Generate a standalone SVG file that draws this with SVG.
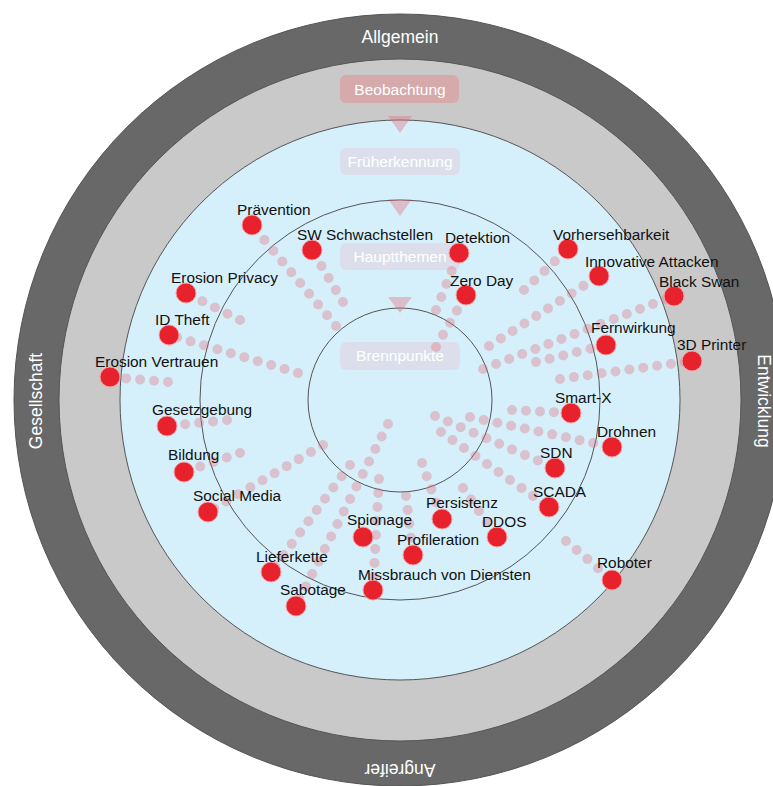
<svg xmlns="http://www.w3.org/2000/svg" width="773" height="786" viewBox="0 0 773 786">
<style>
.ring{stroke:#555;stroke-width:1}
.rlab{font-family:"Liberation Sans",Arial,sans-serif;font-size:17.5px;fill:#fff;text-anchor:middle}
.box{stroke:none}
.blab{font-family:"Liberation Sans",Arial,sans-serif;font-size:15.5px;fill:#fff;text-anchor:middle}
.tri{fill:#e07080;fill-opacity:.4}
.trail{stroke:#e06a7c;stroke-opacity:.35;stroke-width:10;stroke-linecap:round;stroke-dasharray:0 14;fill:none}
.dot{fill:#e8222c;stroke:#f4a0a4;stroke-width:1}
.lab{font-family:"Liberation Sans",Arial,sans-serif;font-size:15.4px;fill:#111}
</style>
<rect width="773" height="786" fill="#fff"/>
<g id="rings">
<circle class="ring" cx="400" cy="400" r="386" fill="#686868"/>
<circle class="ring" cx="400" cy="400" r="341" fill="#c9c9c9"/>
<circle class="ring" cx="400" cy="400" r="280" fill="#d6f0fb"/>
<circle class="ring" cx="400" cy="400" r="200" fill="none"/>
<circle class="ring" cx="400" cy="400" r="92" fill="none"/>
</g>
<g id="ring-labels">
<text class="rlab" x="400" y="43">Allgemein</text>
<text class="rlab" transform="translate(42,401) rotate(-90)">Gesellschaft</text>
<text class="rlab" transform="translate(758,401) rotate(90)">Entwicklung</text>
<text class="rlab" transform="translate(400,764) rotate(180)">Angreifer</text>
</g>
<g id="stages">
<g id="stage-beobachtung"><rect class="box" x="340" y="75" width="119" height="28" rx="6" fill="#d6a9ab"/><text class="blab" x="400" y="95" fill="#f6eaea">Beobachtung</text></g>
<polygon class="tri" points="388,116 412,116 400,133"/>
<g id="stage-frueherkennung"><rect class="box" x="340" y="148" width="120" height="27" rx="6" fill="#dcdfeb"/><text class="blab" x="400" y="167">Früherkennung</text></g>
<polygon class="tri" points="388,199 412,199 400,216"/>
<g id="stage-hauptthemen"><rect class="box" x="340" y="243" width="120" height="27" rx="6" fill="#dcdfeb"/><text class="blab" x="400" y="262">Hauptthemen</text></g>
<polygon class="tri" points="388,297 412,297 400,313"/>
<g id="stage-brennpunkte"><rect class="box" x="340" y="342" width="120" height="28" rx="6" fill="#dcdfeb"/><text class="blab" x="400" y="361">Brennpunkte</text></g>
</g>
<g id="connectors">
<line class="trail" x1="336" y1="326" x2="252" y2="225"/>
<line class="trail" x1="343" y1="302" x2="312" y2="250"/>
<line class="trail" x1="436" y1="310" x2="459" y2="253"/>
<line class="trail" x1="436" y1="347" x2="466" y2="295"/>
<line class="trail" x1="240" y1="320" x2="186" y2="293"/>
<line class="trail" x1="298" y1="373" x2="169" y2="335"/>
<line class="trail" x1="168" y1="382" x2="110" y2="377"/>
<line class="trail" x1="227" y1="420" x2="167" y2="426"/>
<line class="trail" x1="240" y1="453" x2="184" y2="472"/>
<line class="trail" x1="323" y1="445" x2="208" y2="512"/>
<line class="trail" x1="350" y1="465" x2="271" y2="572"/>
<line class="trail" x1="388" y1="424" x2="296" y2="606"/>
<line class="trail" x1="379" y1="479" x2="373" y2="590"/>
<line class="trail" x1="406" y1="496" x2="413" y2="555"/>
<line class="trail" x1="422" y1="463" x2="442" y2="519"/>
<line class="trail" x1="463" y1="488" x2="497" y2="537"/>
<line class="trail" x1="441" y1="432" x2="549" y2="507"/>
<line class="trail" x1="435" y1="416" x2="555" y2="468"/>
<line class="trail" x1="512" y1="410" x2="571" y2="413"/>
<line class="trail" x1="470" y1="417" x2="612" y2="447"/>
<line class="trail" x1="566" y1="541" x2="612" y2="580"/>
<line class="trail" x1="524" y1="290" x2="568" y2="249"/>
<line class="trail" x1="489" y1="346" x2="599" y2="276"/>
<line class="trail" x1="483" y1="369" x2="674" y2="296"/>
<line class="trail" x1="536" y1="362" x2="606" y2="345"/>
<line class="trail" x1="560" y1="379" x2="692" y2="361"/>
</g>
<g id="topics">
<g id="n-praevention"><circle class="dot" cx="252" cy="225" r="10"/><text class="lab" x="237" y="215">Prävention</text></g>
<g id="n-sw"><circle class="dot" cx="312" cy="250" r="10"/><text class="lab" x="297" y="240">SW Schwachstellen</text></g>
<g id="n-detektion"><circle class="dot" cx="459" cy="253" r="10"/><text class="lab" x="445" y="243">Detektion</text></g>
<g id="n-zeroday"><circle class="dot" cx="466" cy="295" r="10"/><text class="lab" x="450" y="286">Zero Day</text></g>
<g id="n-erosionprivacy"><circle class="dot" cx="186" cy="293" r="10"/><text class="lab" x="171" y="283">Erosion Privacy</text></g>
<g id="n-idtheft"><circle class="dot" cx="169" cy="335" r="10"/><text class="lab" x="155" y="325">ID Theft</text></g>
<g id="n-erosionvertrauen"><circle class="dot" cx="110" cy="377" r="10"/><text class="lab" x="95" y="367">Erosion Vertrauen</text></g>
<g id="n-gesetzgebung"><circle class="dot" cx="167" cy="426" r="10"/><text class="lab" x="152" y="415">Gesetzgebung</text></g>
<g id="n-bildung"><circle class="dot" cx="184" cy="472" r="10"/><text class="lab" x="168" y="460">Bildung</text></g>
<g id="n-socialmedia"><circle class="dot" cx="208" cy="512" r="10"/><text class="lab" x="193" y="501">Social Media</text></g>
<g id="n-lieferkette"><circle class="dot" cx="271" cy="572" r="10"/><text class="lab" x="256" y="562">Lieferkette</text></g>
<g id="n-sabotage"><circle class="dot" cx="296" cy="606" r="10"/><text class="lab" x="280" y="595">Sabotage</text></g>
<g id="n-spionage"><circle class="dot" cx="363" cy="537" r="10"/><text class="lab" x="347" y="525">Spionage</text></g>
<g id="n-profileration"><circle class="dot" cx="413" cy="555" r="10"/><text class="lab" x="397" y="545">Profileration</text></g>
<g id="n-persistenz"><circle class="dot" cx="442" cy="519" r="10"/><text class="lab" x="426" y="508">Persistenz</text></g>
<g id="n-ddos"><circle class="dot" cx="497" cy="537" r="10"/><text class="lab" x="482" y="527">DDOS</text></g>
<g id="n-missbrauch"><circle class="dot" cx="373" cy="590" r="10"/><text class="lab" x="358" y="580">Missbrauch von Diensten</text></g>
<g id="n-scada"><circle class="dot" cx="549" cy="507" r="10"/><text class="lab" x="533" y="497">SCADA</text></g>
<g id="n-sdn"><circle class="dot" cx="555" cy="468" r="10"/><text class="lab" x="540" y="458">SDN</text></g>
<g id="n-smartx"><circle class="dot" cx="571" cy="413" r="10"/><text class="lab" x="555" y="403">Smart-X</text></g>
<g id="n-drohnen"><circle class="dot" cx="612" cy="447" r="10"/><text class="lab" x="597" y="437">Drohnen</text></g>
<g id="n-roboter"><circle class="dot" cx="612" cy="580" r="10"/><text class="lab" x="597" y="568">Roboter</text></g>
<g id="n-vorhersehbarkeit"><circle class="dot" cx="568" cy="249" r="10"/><text class="lab" x="553" y="240">Vorhersehbarkeit</text></g>
<g id="n-innovative"><circle class="dot" cx="599" cy="276" r="10"/><text class="lab" x="585" y="267">Innovative Attacken</text></g>
<g id="n-blackswan"><circle class="dot" cx="674" cy="296" r="10"/><text class="lab" x="659" y="287">Black Swan</text></g>
<g id="n-fernwirkung"><circle class="dot" cx="606" cy="345" r="10"/><text class="lab" x="591" y="333">Fernwirkung</text></g>
<g id="n-3dprinter"><circle class="dot" cx="692" cy="361" r="10"/><text class="lab" x="677" y="350">3D Printer</text></g>
</g>
</svg>
